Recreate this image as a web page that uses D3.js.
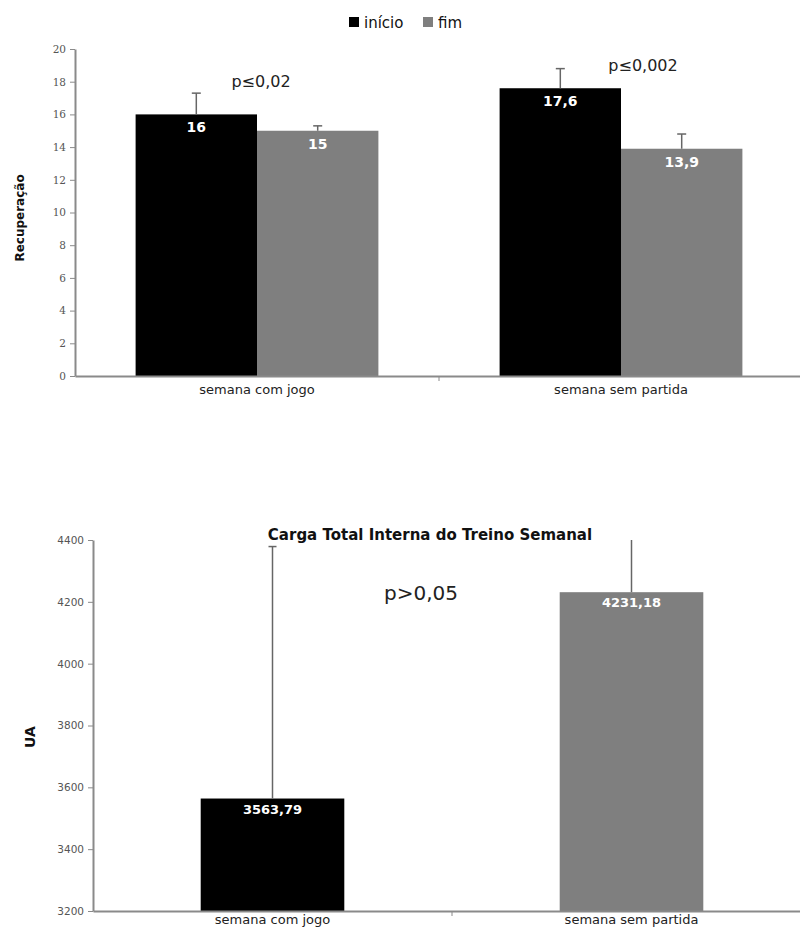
<!DOCTYPE html>
<html>
<head>
<meta charset="utf-8">
<script src="https://cdn.jsdelivr.net/npm/d3@7"></script>
<style>
  body { margin: 0; background: #fff; }
  svg { display: block; }
</style>
</head>
<body>
<svg id="chart" width="800" height="930"></svg>
<script>
// dados - gráfico de recuperação
const categories = ['semana com jogo', 'semana sem partida'];
const seriesNames = ['início', 'fim'];
const seriesColors = ['#000000', '#7f7f7f'];
const recInicio = [16, 17.6];
const recFim = [15, 13.9];
const recInicioErr = [1.3, 1.2];
const recFimErr = [0.3, 0.9];
const recLabels = [['16', '17,6'], ['15', '13,9']];
const recTicks = [0, 2, 4, 6, 8, 10, 12, 14, 16, 18, 20];
const recPLabels = ['p≤0,02', 'p≤0,002'];

// dados - carga total interna
const cargaValues = [3563.79, 4231.18];
const cargaErr = [815, 400];
const cargaLabels = ['3563,79', '4231,18'];
const cargaTicks = [3200, 3400, 3600, 3800, 4000, 4200, 4400];
const cargaP = 'p>0,05';

const svg = d3.select('#chart');
const axisColor = '#8a8a8a';
const errColor = '#666';
const sans = 'DejaVu Sans';

// ---------- gráfico 1 ----------
const m1 = { left: 75, top: 49, right: 803, bottom: 376 };
const x1 = d3.scaleBand().domain(categories).range([m1.left, m1.right]);
const y1 = d3.scaleLinear().domain([0, 20]).range([m1.bottom, m1.top]);
const groupW = x1.bandwidth() * 0.667;
const xi = d3.scaleBand().domain(seriesNames).range([0, groupW]);

const g1 = svg.append('g');

const yAxis1 = g1.append('g')
  .attr('transform', `translate(${m1.left},0)`)
  .call(d3.axisLeft(y1).tickValues(recTicks).tickFormat(d3.format('d')).tickSize(5).tickPadding(4).tickSizeOuter(0));
yAxis1.select('.domain').attr('stroke', axisColor).attr('stroke-width', 2);
yAxis1.selectAll('.tick line').attr('stroke', axisColor);
yAxis1.selectAll('.tick text')
  .attr('fill', '#555').attr('font-family', 'DejaVu Serif').attr('font-size', 10.5);

const series1 = [
  { name: seriesNames[0], values: recInicio, err: recInicioErr, labels: recLabels[0], color: seriesColors[0] },
  { name: seriesNames[1], values: recFim, err: recFimErr, labels: recLabels[1], color: seriesColors[1] }
];

series1.forEach(s => {
  const bx = (c) => x1(c) + (x1.bandwidth() - groupW) / 2 + xi(s.name);
  // barras
  g1.selectAll(null).data(categories).enter().append('rect')
    .attr('x', (c) => bx(c))
    .attr('y', (c, i) => y1(s.values[i]))
    .attr('width', xi.bandwidth())
    .attr('height', (c, i) => y1(0) - y1(s.values[i]))
    .attr('fill', s.color);
  // barras de erro (só para cima)
  g1.selectAll(null).data(categories).enter().append('line')
    .attr('x1', (c) => bx(c) + xi.bandwidth() / 2)
    .attr('x2', (c) => bx(c) + xi.bandwidth() / 2)
    .attr('y1', (c, i) => y1(s.values[i]))
    .attr('y2', (c, i) => y1(s.values[i] + s.err[i]))
    .attr('stroke', errColor).attr('stroke-width', 1.5);
  g1.selectAll(null).data(categories).enter().append('line')
    .attr('x1', (c) => bx(c) + xi.bandwidth() / 2 - 4.5)
    .attr('x2', (c) => bx(c) + xi.bandwidth() / 2 + 4.5)
    .attr('y1', (c, i) => y1(s.values[i] + s.err[i]))
    .attr('y2', (c, i) => y1(s.values[i] + s.err[i]))
    .attr('stroke', errColor).attr('stroke-width', 1.5);
  // rótulos
  g1.selectAll(null).data(categories).enter().append('text')
    .attr('x', (c) => bx(c) + xi.bandwidth() / 2)
    .attr('y', (c, i) => y1(s.values[i]) + 18)
    .attr('text-anchor', 'middle')
    .attr('font-family', sans).attr('font-weight', 'bold').attr('font-size', 14)
    .attr('fill', '#fff')
    .text((c, i) => s.labels[i]);
});

// eixo x
const xAxis1 = g1.append('g')
  .attr('transform', `translate(0,${m1.bottom})`)
  .call(d3.axisBottom(x1).tickSize(0).tickPadding(9));
xAxis1.select('.domain').attr('stroke', axisColor).attr('stroke-width', 2);
xAxis1.selectAll('.tick text')
  .attr('fill', '#222').attr('font-family', sans).attr('font-size', 13);
g1.append('line')
  .attr('x1', x1(categories[1])).attr('x2', x1(categories[1]))
  .attr('y1', m1.bottom).attr('y2', m1.bottom + 5)
  .attr('stroke', axisColor);

// valores de p
const pPos1 = [[261, 87], [643, 71]];
g1.selectAll(null).data(recPLabels).enter().append('text')
  .attr('x', (d, i) => pPos1[i][0])
  .attr('y', (d, i) => pPos1[i][1])
  .attr('text-anchor', 'middle')
  .attr('font-family', sans).attr('font-size', 16).attr('fill', '#222')
  .text(d => d);

// título do eixo y
g1.append('text')
  .attr('transform', 'translate(24,218) rotate(-90)')
  .attr('text-anchor', 'middle')
  .attr('font-family', sans).attr('font-weight', 'bold').attr('font-size', 12)
  .attr('fill', '#111')
  .text('Recuperação');

// legenda
const legend = g1.append('g').attr('transform', 'translate(349,17)');
const legX = [0, 74];
seriesNames.forEach((n, i) => {
  legend.append('rect').attr('x', legX[i]).attr('y', 0).attr('width', 10).attr('height', 10)
    .attr('fill', seriesColors[i]);
  legend.append('text').attr('x', legX[i] + 15).attr('y', 10.5)
    .attr('font-family', sans).attr('font-size', 15).attr('fill', '#111')
    .text(n);
});

// ---------- gráfico 2 ----------
const m2 = { left: 93, top: 540, right: 811, bottom: 911 };
const x2 = d3.scaleBand().domain(categories).range([m2.left, m2.right]);
const y2 = d3.scaleLinear().domain([3200, 4400]).range([m2.bottom, m2.top]);
const barW2 = x2.bandwidth() * 0.4;

const g2 = svg.append('g');
g2.append('clipPath').attr('id', 'clip2').append('rect')
  .attr('x', m2.left).attr('y', m2.top).attr('width', 800 - m2.left).attr('height', m2.bottom - m2.top);

const yAxis2 = g2.append('g')
  .attr('transform', `translate(${m2.left},0)`)
  .call(d3.axisLeft(y2).tickValues(cargaTicks).tickFormat(d3.format('d')).tickSize(5).tickPadding(4).tickSizeOuter(0));
yAxis2.select('.domain').attr('stroke', axisColor).attr('stroke-width', 2);
yAxis2.selectAll('.tick line').attr('stroke', axisColor);
yAxis2.selectAll('.tick text')
  .attr('fill', '#555').attr('font-family', sans).attr('font-size', 10.5);

const bars2 = g2.append('g').attr('clip-path', 'url(#clip2)');
bars2.selectAll('rect').data(categories).enter().append('rect')
  .attr('x', c => x2(c) + (x2.bandwidth() - barW2) / 2)
  .attr('y', (c, i) => y2(cargaValues[i]))
  .attr('width', barW2)
  .attr('height', (c, i) => y2(3200) - y2(cargaValues[i]))
  .attr('fill', (c, i) => seriesColors[i]);
bars2.selectAll('line.err').data(categories).enter().append('line')
  .attr('class', 'err')
  .attr('x1', c => x2(c) + x2.bandwidth() / 2)
  .attr('x2', c => x2(c) + x2.bandwidth() / 2)
  .attr('y1', (c, i) => y2(cargaValues[i]))
  .attr('y2', (c, i) => y2(cargaValues[i] + cargaErr[i]))
  .attr('stroke', errColor).attr('stroke-width', 1.5);
bars2.selectAll('line.cap').data(categories).enter().append('line')
  .attr('class', 'cap')
  .attr('x1', c => x2(c) + x2.bandwidth() / 2 - 4)
  .attr('x2', c => x2(c) + x2.bandwidth() / 2 + 4)
  .attr('y1', (c, i) => y2(cargaValues[i] + cargaErr[i]))
  .attr('y2', (c, i) => y2(cargaValues[i] + cargaErr[i]))
  .attr('stroke', errColor).attr('stroke-width', 1.5);

g2.selectAll('text.val').data(categories).enter().append('text')
  .attr('class', 'val')
  .attr('x', c => x2(c) + x2.bandwidth() / 2)
  .attr('y', (c, i) => y2(cargaValues[i]) + 15)
  .attr('text-anchor', 'middle')
  .attr('font-family', sans).attr('font-weight', 'bold').attr('font-size', 13)
  .attr('fill', '#fff')
  .text((c, i) => cargaLabels[i]);

const xAxis2 = g2.append('g')
  .attr('transform', `translate(0,${m2.bottom})`)
  .call(d3.axisBottom(x2).tickSize(0).tickPadding(4));
xAxis2.select('.domain').attr('stroke', axisColor).attr('stroke-width', 2);
xAxis2.selectAll('.tick text')
  .attr('fill', '#222').attr('font-family', sans).attr('font-size', 13);
g2.append('line')
  .attr('x1', x2(categories[1])).attr('x2', x2(categories[1]))
  .attr('y1', m2.bottom).attr('y2', m2.bottom + 5)
  .attr('stroke', axisColor);

g2.append('text')
  .attr('x', 430).attr('y', 540)
  .attr('text-anchor', 'middle')
  .attr('font-family', sans).attr('font-weight', 'bold').attr('font-size', 15)
  .attr('fill', '#111')
  .text('Carga Total Interna do Treino Semanal');

g2.append('text')
  .attr('x', 421).attr('y', 600)
  .attr('text-anchor', 'middle')
  .attr('font-family', sans).attr('font-size', 20).attr('fill', '#222')
  .text(cargaP);

g2.append('text')
  .attr('transform', 'translate(35,737) rotate(-90)')
  .attr('text-anchor', 'middle')
  .attr('font-family', sans).attr('font-weight', 'bold').attr('font-size', 14)
  .attr('fill', '#111')
  .text('UA');
</script>
</body>
</html>
